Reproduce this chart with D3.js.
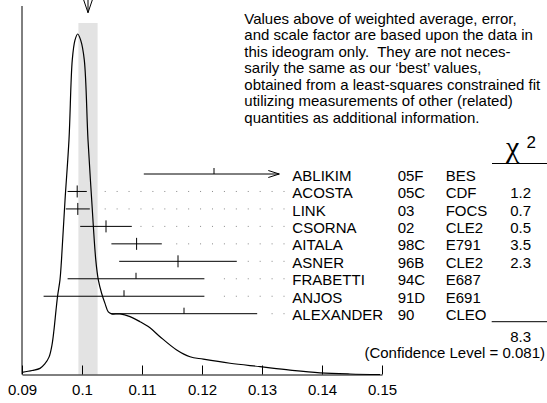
<!DOCTYPE html>
<html>
<head>
<meta charset="utf-8">
<script src="https://cdn.jsdelivr.net/npm/d3@7"></script>
<style>
  html, body { margin: 0; padding: 0; background: #fff; }
  svg { display: block; }
  text { font-family: "Liberation Sans", Arial, Helvetica, sans-serif; fill: #000; }
</style>
</head>
<body>
<svg id="chart" width="547" height="403"></svg>
<script>
// ---------- data ----------
const names = ["ABLIKIM", "ACOSTA", "LINK", "CSORNA", "AITALA", "ASNER", "FRABETTI", "ANJOS", "ALEXANDER"];
const years = ["05F", "05C", "03", "02", "98C", "96B", "94C", "91D", "90"];
const experiments = ["BES", "CDF", "FOCS", "CLE2", "E791", "CLE2", "E687", "E691", "CLEO"];
const values = [0.1220, 0.0992, 0.0993, 0.1040, 0.1091, 0.1160, 0.1090, 0.1070, 0.1170];
const errors = [0.0117, 0.0016, 0.0020, 0.0043, 0.0042, 0.0098, 0.0114, 0.0134, 0.0122];
const chi2 = ["", "1.2", "0.7", "0.5", "3.5", "2.3", "", "", ""];
const chi2Total = "8.3";
const confidenceText = "(Confidence Level = 0.081)";
const average = 0.1010;
const averageError = 0.0016;
const tickValues = [0.09, 0.10, 0.11, 0.12, 0.13, 0.14, 0.15];
// ideogram curve (value, relative density)
const curveX = [0.0900, 0.0917, 0.0930, 0.0938, 0.0945, 0.0950, 0.09533, 0.09567, 0.09595, 0.09633, 0.09658,
  0.09717, 0.09783, 0.09838, 0.09883, 0.09928, 0.09978, 0.10038, 0.10100, 0.10162, 0.10230, 0.10272,
  0.10328, 0.10383, 0.10438, 0.10495, 0.10633, 0.10800, 0.10967, 0.11133, 0.11300, 0.11578, 0.11800,
  0.12022, 0.12467, 0.12967, 0.13467, 0.13967, 0.14467, 0.14967];
const curveY = [0.0065, 0.0117, 0.018, 0.031, 0.051, 0.087, 0.131, 0.189, 0.233, 0.278, 0.336,
  0.512, 0.689, 0.924, 0.982, 1.000, 0.982, 0.924, 0.689, 0.512, 0.336, 0.278,
  0.238, 0.209, 0.184, 0.178, 0.178, 0.170, 0.155, 0.137, 0.111, 0.072, 0.052,
  0.045, 0.033, 0.023, 0.013, 0.005, 0.0015, 0.0];
const noteLines = [
  "Values above of weighted average, error,",
  "and scale factor are based upon the data in",
  "this ideogram only.  They are not neces-",
  "sarily the same as our \u2018best\u2019 values,",
  "obtained from a least-squares constrained fit",
  "utilizing measurements of other (related)",
  "quantities as additional information."
];

// ---------- scales ----------
const svg = d3.select("#chart");
const x = d3.scaleLinear().domain([0.09, 0.15]).range([22, 382]);
const baseY = 374.5;
const y = d3.scaleLinear().domain([0, 1]).range([baseY, 34]);
const row = d3.scaleLinear().domain([0, names.length - 1]).range([174, 313.7]);

// shaded band (weighted average +- error)
svg.append("rect")
  .attr("x", x(average - averageError))
  .attr("y", 23)
  .attr("width", x(average + averageError) - x(average - averageError))
  .attr("height", baseY - 23)
  .attr("fill", "#e3e3e3");

// top arrow at average
const ax = x(average);
svg.append("path")
  .attr("d", `M${ax},0 L${ax},12.7 M${ax - 4.3},0 L${ax},12.7 L${ax + 4.3},0`)
  .attr("fill", "none").attr("stroke", "#000").attr("stroke-width", 1);

// axis
const axis = d3.axisBottom(x).tickValues(tickValues).tickFormat(d3.format("~g"))
  .tickSizeInner(-9).tickSizeOuter(0).tickPadding(9.5);
const gAxis = svg.append("g").attr("transform", `translate(0,${baseY})`).call(axis);
gAxis.selectAll("path, line").attr("stroke", "#000");
gAxis.selectAll("text").attr("font-size", 15).attr("fill", "#000");

svg.append("line").attr("x1", x(0.09)).attr("x2", x(0.09)).attr("y1", 6).attr("y2", baseY)
  .attr("stroke", "#000");

// ideogram curve
const pts = curveX.map((v, i) => [v, curveY[i]]);
svg.append("path")
  .attr("d", d3.line().x(d => x(d[0])).y(d => y(d[1])).curve(d3.curveCatmullRom.alpha(0.5))(pts))
  .attr("fill", "none").attr("stroke", "#000").attr("stroke-width", 1.2);

// measurements
const labelX = 292.3;
const clipX = labelX - 13;
const dotStep = 11.92;
const dotEnd = 284;
names.forEach((n, i) => {
  const ry = row(i);
  const lo = x(values[i] - errors[i]);
  let hi = x(values[i] + errors[i]);
  const clipped = hi > clipX;
  if (clipped) hi = clipX;
  svg.append("line").attr("x1", lo).attr("x2", hi).attr("y1", ry).attr("y2", ry)
    .attr("stroke", "#000").attr("stroke-width", 1);
  const vx = x(values[i]);
  const used = chi2[i] !== "";
  svg.append("line").attr("x1", vx).attr("x2", vx)
    .attr("y1", ry - 6).attr("y2", used ? ry + 6 : ry)
    .attr("stroke", "#000").attr("stroke-width", 1);
  if (clipped) {
    svg.append("path")
      .attr("d", `M${hi - 11},${ry - 3.5} L${hi},${ry} L${hi - 11},${ry + 3.5}`)
      .attr("fill", "none").attr("stroke", "#000").attr("stroke-width", 1);
  } else {
    for (let dx = dotEnd; dx > hi + 9; dx -= dotStep) {
      svg.append("rect").attr("x", dx - 0.5).attr("y", ry - 0.5).attr("width", 1).attr("height", 1)
        .attr("fill", "#888");
    }
  }
  svg.append("text").attr("x", labelX).attr("y", ry + 6.6).attr("font-size", 15).text(n);
  svg.append("text").attr("x", 397.7).attr("y", ry + 6.6).attr("font-size", 15).text(years[i]);
  svg.append("text").attr("x", 445.7).attr("y", ry + 6.6).attr("font-size", 15).text(experiments[i]);
  if (used) {
    svg.append("text").attr("x", 531).attr("y", ry + 6.6).attr("font-size", 15)
      .attr("text-anchor", "end").text(chi2[i]);
  }
});

// chi2 header
svg.append("text").attr("x", 506).attr("y", 157).attr("font-size", 30)
  .style("font-family", '"Liberation Serif", "Times New Roman", serif').text("\u03c7");
svg.append("text").attr("x", 526.5).attr("y", 148).attr("font-size", 17).text("2");
svg.append("line").attr("x1", 492).attr("x2", 547).attr("y1", 163.5).attr("y2", 163.5).attr("stroke", "#000");

// total
svg.append("line").attr("x1", 491.7).attr("x2", 547).attr("y1", 321.7).attr("y2", 321.7).attr("stroke", "#000");
svg.append("text").attr("x", 531).attr("y", 341.5).attr("font-size", 15).attr("text-anchor", "end").text(chi2Total);
svg.append("text").attr("x", 545).attr("y", 358).attr("font-size", 15).attr("text-anchor", "end").text(confidenceText);

// note
noteLines.forEach((t, i) => {
  svg.append("text").attr("x", 244.3).attr("y", 24 + 16.45 * i).attr("font-size", 15)
    .style("white-space", "pre").text(t);
});
</script>
</body>
</html>
